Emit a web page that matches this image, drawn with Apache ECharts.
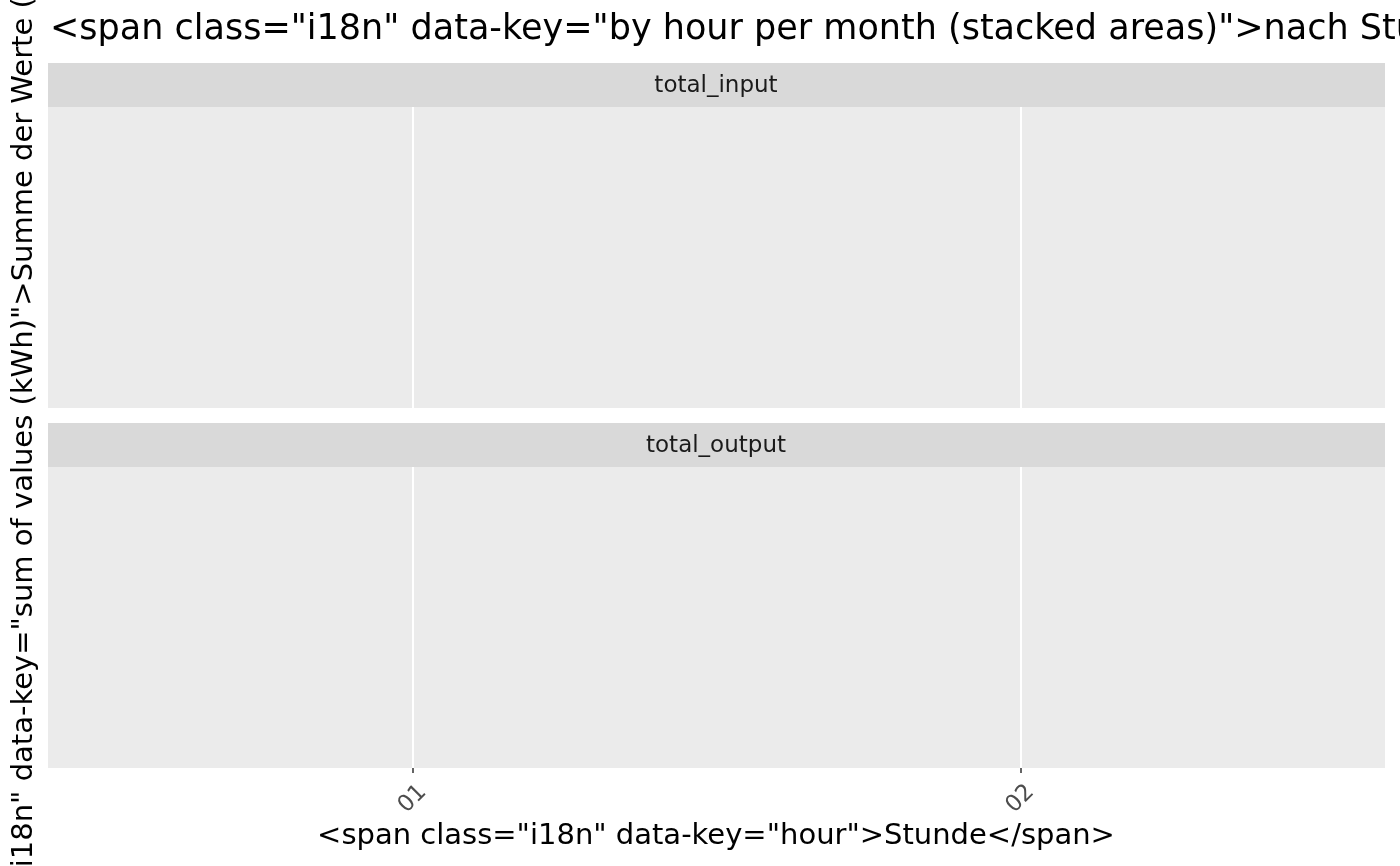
<!doctype html>
<html>

	<head>
		<meta charset="UTF-8">
		<title>by hour per month</title>
		<style>
			html,
			body {
				margin: 0;
				padding: 0;
				background: #FFFFFF;
			}

			.chart {
				width: 1400px;
				height: 866px;
			}
		</style>
	</head>

	<body>
		<div class="chart" id="hourChart"></div>

		<script src="https://cdn.jsdelivr.net/npm/echarts@6/dist/echarts.min.js" type="text/javascript" charset="utf-8"></script>

		<script type="text/javascript">
			// x categories (hour of day)
			var hours = ['01', '02'];
			// facets
			var facets = ['total_input', 'total_output'];
			// stacked area values per facet (no data in the source chart)
			var inputValues = [];
			var outputValues = [];

			var titleText = '<span class="i18n" data-key="by hour per month (stacked areas)">nach Stunde pro Monat (gestapelte Flächen)</span>';
			var xTitle = '<span class="i18n" data-key="hour">Stunde</span>';
			var yTitle = '<span class="i18n" data-key="sum of values (kWh)">Summe der Werte (kWh)</span>';

			var FONT = 'DejaVu Sans';

			var hourIndex = [];
			for(var i = 0; i < hours.length; i++) {
				hourIndex.push(i + 1);
			}

			var chart = echarts.init(document.getElementById('hourChart'), null, {
				renderer: 'canvas'
			});

			function makeXAxis(idx, showLabel) {
				return {
					type: 'value',
					gridIndex: idx,
					min: 0.4,
					max: hours.length + 0.6,
					axisLine: {
						show: false
					},
					axisTick: {
						show: showLabel,
						customValues: hourIndex,
						length: 5,
						lineStyle: {
							color: '#333333',
							width: 1.5
						}
					},
					axisLabel: {
						show: showLabel,
						customValues: hourIndex,
						rotate: 45,
						margin: 31,
						align: 'center',
						verticalAlign: 'middle',
						fontFamily: FONT,
						fontSize: 23,
						color: '#4D4D4D',
						formatter: function(v) {
							return hours[Math.round(v) - 1] || '';
						}
					},
					splitLine: {
						show: true,
						lineStyle: {
							color: '#FFFFFF',
							width: 2
						}
					}
				};
			}

			function makeYAxis(idx) {
				return {
					type: 'value',
					gridIndex: idx,
					min: 0,
					max: 1,
					axisLine: {
						show: false
					},
					axisTick: {
						show: false
					},
					axisLabel: {
						show: false
					},
					splitLine: {
						show: false
					}
				};
			}

			function toPairs(values) {
				var arr = [];
				for(var i = 0; i < values.length; i++) {
					arr.push([hourIndex[i], values[i]]);
				}
				return arr;
			}

			function stripGraphic(top, label) {
				return [{
					type: 'rect',
					shape: {
						x: 48,
						y: top,
						width: 1337,
						height: 44
					},
					style: {
						fill: '#D9D9D9'
					},
					silent: true
				}, {
					type: 'text',
					x: 716,
					y: top + 23,
					style: {
						text: label,
						fill: '#1A1A1A',
						font: '23px "' + FONT + '"',
						textAlign: 'center',
						textVerticalAlign: 'middle'
					},
					silent: true
				}];
			}

			var graphics = [];
			graphics = graphics.concat(stripGraphic(63, facets[0]));
			graphics = graphics.concat(stripGraphic(423, facets[1]));

			// plot title
			graphics.push({
				type: 'text',
				x: 50,
				y: 30,
				style: {
					text: titleText,
					fill: '#000000',
					font: '35px "' + FONT + '"',
					textAlign: 'left',
					textVerticalAlign: 'middle'
				}
			});

			// x axis title
			graphics.push({
				type: 'text',
				x: 716,
				y: 836,
				style: {
					text: xTitle,
					fill: '#000000',
					font: '29px "' + FONT + '"',
					textAlign: 'center',
					textVerticalAlign: 'middle'
				}
			});

			// y axis title
			graphics.push({
				type: 'text',
				x: 24,
				y: 437,
				rotation: Math.PI / 2,
				style: {
					text: yTitle,
					fill: '#000000',
					font: '29px "' + FONT + '"',
					textAlign: 'center',
					textVerticalAlign: 'middle'
				}
			});

			var option = {
				animation: false,
				backgroundColor: '#FFFFFF',
				grid: [{
					left: 48,
					top: 107,
					width: 1337,
					height: 301,
					show: true,
					backgroundColor: '#EBEBEB',
					borderWidth: 0
				}, {
					left: 48,
					top: 467,
					width: 1337,
					height: 301,
					show: true,
					backgroundColor: '#EBEBEB',
					borderWidth: 0
				}],
				xAxis: [makeXAxis(0, false), makeXAxis(1, true)],
				yAxis: [makeYAxis(0), makeYAxis(1)],
				series: [{
					name: facets[0],
					type: 'line',
					stack: 'in',
					areaStyle: {},
					xAxisIndex: 0,
					yAxisIndex: 0,
					data: toPairs(inputValues)
				}, {
					name: facets[1],
					type: 'line',
					stack: 'out',
					areaStyle: {},
					xAxisIndex: 1,
					yAxisIndex: 1,
					data: toPairs(outputValues)
				}],
				graphic: graphics
			};

			chart.setOption(option);
		</script>
	</body>

</html>
